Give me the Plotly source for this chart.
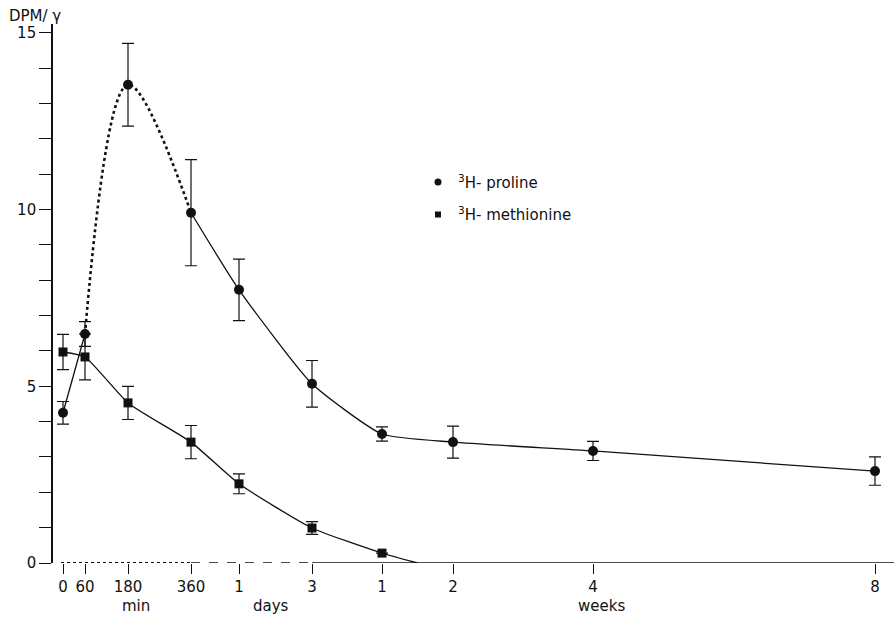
import plotly.graph_objects as go

# ---- axis scale (custom, non-uniform time axis) ----
tick_labels = ["0", "60", "180", "360", "1", "3", "1", "2", "4", "8"]
tick_pos = [0, 22, 65, 128, 176, 249, 319, 390, 530, 812]
unit_labels = ["min", "days", "weeks"]

# ---- data ----
proline_y = [4.25, 6.48, 13.53, 9.91, 7.73, 5.07, 3.65, 3.42, 3.17, 2.60]
proline_err = [0.32, 0.35, 1.17, 1.50, 0.87, 0.66, 0.20, 0.45, 0.27, 0.40]

methionine_y = [5.97, 5.83, 4.53, 3.42, 2.24, 0.99, 0.28]
methionine_err = [0.50, 0.65, 0.47, 0.47, 0.28, 0.18, 0.0]

x_all = tick_pos
x_met = tick_pos[:len(methionine_y)]
# methionine curve reaches zero at about 1.5 weeks
met_tail_x = (tick_pos[6] + tick_pos[7]) / 2
met_tail_y = 0.0

BLACK = "#111111"
FONT = "DejaVu Sans"

fig = go.Figure()

# proline: solid 0 -> 60 min
fig.add_trace(go.Scatter(x=x_all[0:2], y=proline_y[0:2], mode="lines",
                         line=dict(color=BLACK, width=1.3), showlegend=False, hoverinfo="skip"))
# proline: dotted 60 -> 180 -> 360 min
fig.add_trace(go.Scatter(x=x_all[1:4], y=proline_y[1:4], mode="lines",
                         line=dict(color=BLACK, width=2.6, dash="dot", shape="spline", smoothing=1.0),
                         showlegend=False, hoverinfo="skip"))
# proline: solid from 360 min on
fig.add_trace(go.Scatter(x=x_all[3:], y=proline_y[3:], mode="lines",
                         line=dict(color=BLACK, width=1.3, shape="spline", smoothing=0.5),
                         showlegend=False, hoverinfo="skip"))
# methionine curve
fig.add_trace(go.Scatter(x=x_met + [met_tail_x], y=methionine_y + [met_tail_y], mode="lines",
                         line=dict(color=BLACK, width=1.3, shape="spline", smoothing=0.5),
                         showlegend=False, hoverinfo="skip"))

# markers with error bars
fig.add_trace(go.Scatter(x=x_all, y=proline_y, mode="markers",
                         marker=dict(symbol="circle", size=10, color=BLACK),
                         error_y=dict(type="data", array=proline_err, color=BLACK, thickness=1.2, width=6),
                         showlegend=False))
fig.add_trace(go.Scatter(x=x_met, y=methionine_y, mode="markers",
                         marker=dict(symbol="square", size=9, color=BLACK),
                         error_y=dict(type="data", array=methionine_err, color=BLACK, thickness=1.2, width=6),
                         showlegend=False))

# legend entries
fig.add_trace(go.Scatter(x=[None], y=[None], mode="markers", name="<sup>3</sup>H- proline",
                         marker=dict(symbol="circle", size=7, color=BLACK), legendgroup="a"))
fig.add_trace(go.Scatter(x=[None], y=[None], mode="markers", name="<sup>3</sup>H- methionine",
                         marker=dict(symbol="square", size=6, color=BLACK), legendgroup="b"))

# baseline (x axis line): dotted over minutes, dashed to 3 days, solid after
fig.add_shape(type="line", xref="x", yref="y", x0=-2, x1=tick_pos[3], y0=0, y1=0,
              line=dict(color=BLACK, width=2, dash="dot"))
fig.add_shape(type="line", xref="x", yref="y", x0=tick_pos[3], x1=tick_pos[5], y0=0, y1=0,
              line=dict(color=BLACK, width=1.5, dash="dash"))
fig.add_shape(type="line", xref="x", yref="y", x0=tick_pos[5], x1=840, y0=0, y1=0,
              line=dict(color=BLACK, width=1.5))

# unit labels under tick labels
unit_centers = [(tick_pos[1] + tick_pos[3]) / 2 - 2, (tick_pos[4] + tick_pos[5]) / 2 - 5,
                (tick_pos[7] + tick_pos[8]) / 2 + 78]
for txt, xc in zip(unit_labels, unit_centers):
    fig.add_annotation(x=xc, y=0, xref="x", yref="paper", yshift=-43, text=txt,
                       showarrow=False, font=dict(family=FONT, size=15, color=BLACK),
                       xanchor="center", yanchor="middle")

# y-axis title
fig.add_annotation(x=0, y=1, xref="paper", yref="paper", text="DPM/ γ", showarrow=False,
                   xanchor="left", yanchor="bottom", xshift=-46, yshift=-3,
                   font=dict(family=FONT, size=15, color=BLACK))

fig.update_layout(
    width=894, height=622,
    margin=dict(l=53, r=0, t=24, b=59),
    paper_bgcolor="white", plot_bgcolor="white",
    font=dict(family=FONT, color=BLACK),
    legend=dict(x=0.434, y=0.737, xanchor="left", yanchor="top", bgcolor="rgba(0,0,0,0)",
                font=dict(family=FONT, size=15, color=BLACK), tracegroupgap=10),
    xaxis=dict(range=[-10, 831], tickvals=tick_pos, ticktext=tick_labels, ticks="outside",
               ticklen=10, tickwidth=1.2, tickcolor=BLACK, showgrid=False, zeroline=False,
               showline=False, tickfont=dict(family=FONT, size=15, color=BLACK)),
    yaxis=dict(range=[0, 15.25], tickmode="linear", tick0=0, dtick=5,
               ticks="outside", ticklen=12, tickwidth=1.2, tickcolor=BLACK,
               minor=dict(tickmode="linear", tick0=0, dtick=1, ticks="outside", ticklen=12,
                          tickwidth=1.2, tickcolor=BLACK, showgrid=False),
               showgrid=False, zeroline=False, showline=True, linecolor=BLACK, linewidth=1.6,
               tickfont=dict(family=FONT, size=15, color=BLACK)),
)

fig.write_html("out.html")
